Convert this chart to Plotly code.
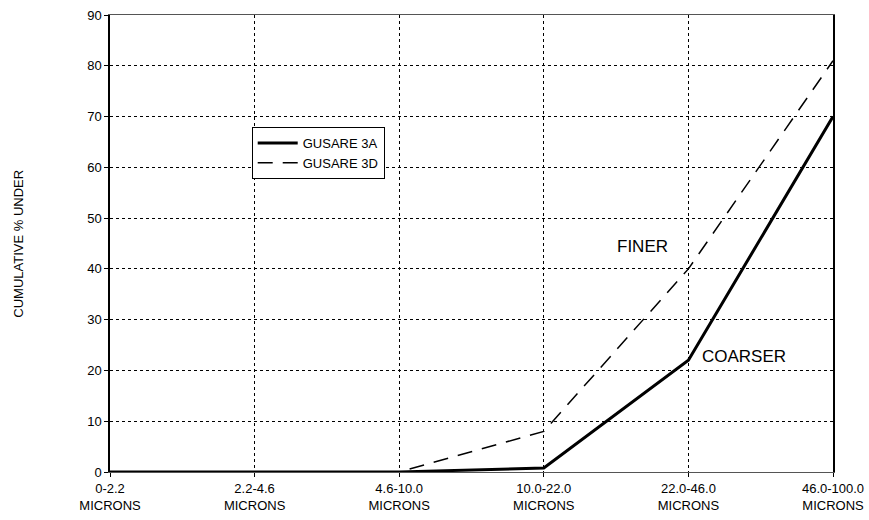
import plotly.graph_objects as go

categories = ["0-2.2", "2.2-4.6", "4.6-10.0", "10.0-22.0", "22.0-46.0", "46.0-100.0"]
gusare_3a = [0, 0, 0, 0.8, 22, 70]
gusare_3d = [0, 0, 0, 8, 40, 81]
y_ticks = [0, 10, 20, 30, 40, 50, 60, 70, 80, 90]

xpos = list(range(len(categories)))
ticktext = [c + "<br>MICRONS" for c in categories]

FONT = "Liberation Sans, Arial"

fig = go.Figure()
fig.add_trace(go.Scatter(x=xpos, y=gusare_3a, mode="lines", name="GUSARE 3A",
                         line=dict(color="black", width=3)))
fig.add_trace(go.Scatter(x=xpos, y=gusare_3d, mode="lines", name="GUSARE 3D",
                         line=dict(color="black", width=1.5, dash="15px,10px")))

fig.add_annotation(x=3.49, y=44.5, text="FINER", showarrow=False, xanchor="left",
                   font=dict(family=FONT, size=17, color="black"))
fig.add_annotation(x=4.08, y=22.8, text="COARSER", showarrow=False, xanchor="left",
                   font=dict(family=FONT, size=17, color="black"))
fig.add_annotation(xref="paper", yref="paper", x=-0.127, y=0.50, text="CUMULATIVE % UNDER",
                   textangle=-90, showarrow=False, xanchor="center", yanchor="middle",
                   font=dict(family=FONT, size=13, color="black"))

fig.update_layout(
    width=869, height=520,
    margin=dict(l=110, r=36, t=15, b=48, autoexpand=False),
    paper_bgcolor="white", plot_bgcolor="white",
    font=dict(family=FONT, size=13, color="black"),
    showlegend=True,
    legend=dict(x=0.196, y=0.755, xanchor="left", yanchor="top",
                bordercolor="black", borderwidth=1, bgcolor="white",
                font=dict(size=13), tracegroupgap=0,
                itemwidth=40),
    xaxis=dict(range=[0, 5], tickvals=xpos, ticktext=ticktext, automargin=False,
               showgrid=True, gridcolor="black", griddash="dot", gridwidth=1,
               showline=True, linecolor="#555", linewidth=1, mirror=True,
               ticks="outside", ticklen=4, tickcolor="black",
               zeroline=False, tickfont=dict(size=13)),
    yaxis=dict(range=[0, 90], tickvals=y_ticks, automargin=False,
               showgrid=True, gridcolor="black", griddash="dot", gridwidth=1,
               showline=True, linecolor="black", linewidth=1.5, mirror=True,
               ticks="outside", ticklen=4, tickcolor="black",
               zeroline=False, tickfont=dict(size=13)),
)

fig.write_html("out.html",
               config={"displayModeBar": False},
               post_script="document.body.style.margin='0';document.body.style.overflow='hidden';")
